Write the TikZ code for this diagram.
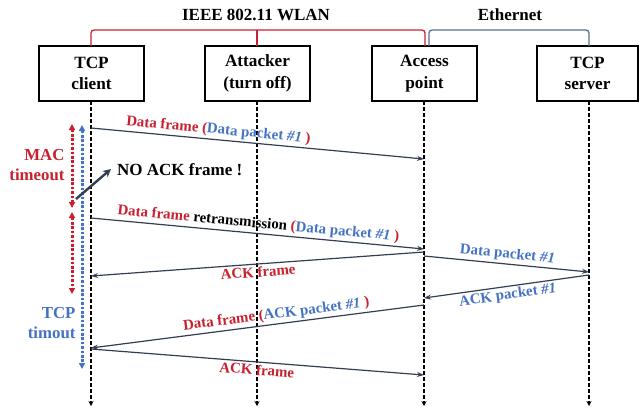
\documentclass[tikz,border=0pt]{standalone}
\usepackage{fontspec}
\setmainfont{Liberation Serif}
\usetikzlibrary{arrows.meta}
\definecolor{wlanred}{HTML}{C8202E}
\definecolor{tcpblue}{HTML}{4472C4}
\definecolor{msgline}{HTML}{333F50}
\definecolor{ethline}{HTML}{5A6E8C}
\newcommand{\rd}[1]{\textcolor{wlanred}{#1}}
\newcommand{\bl}[1]{\textcolor{tcpblue}{#1}}
\begin{document}
\begin{tikzpicture}[x=1pt,y=-1pt,
  font=\bfseries,
  entity/.style={draw=black,line width=1.2pt,minimum width=105pt,minimum height=55pt,
    inner sep=0pt,align=center,font=\fontsize{17.2}{21.5}\selectfont\bfseries},
  lifeline/.style={draw=black,line width=1.1pt,dash pattern=on 3.5pt off 2.5pt,
    -{Stealth[length=5pt,width=5pt]}},
  msg/.style={draw=msgline,line width=1.2pt,-{Stealth[length=7pt,width=5pt]}},
  lbl/.style={font=\fontsize{14.9}{18}\selectfont\bfseries,inner sep=2pt},
  timer/.style={line width=3pt,dash pattern=on 2.6pt off 1.8pt,
    {Triangle[length=6pt,width=6pt]}-{Triangle[length=6pt,width=6pt]}},
  bracket/.style={line width=1.3pt,rounded corners=3pt}
]
\useasboundingbox (0,0) rectangle (640,410);

% entities
\node[entity] (cli) at (91.5,73.5) {TCP\\client};
\node[entity] (att) at (257.5,73.5) {Attacker\\(turn off)};
\node[entity] (ap)  at (424.5,73.5) {Access\\point};
\node[entity,minimum width=101pt] (srv) at (587.5,73.5) {TCP\\server};

% network brackets
\node[font=\fontsize{17}{20}\selectfont\bfseries] (wlan) at (256,15) {IEEE 802.11 WLAN};
\node[font=\fontsize{17}{20}\selectfont\bfseries] (eth) at (510,15) {Ethernet};
\draw[bracket,draw=wlanred] (91,46) -- (91,30) -- (425,30) -- (425,46);
\draw[bracket,draw=wlanred] (257,30) -- (257,46);
\draw[bracket,draw=ethline] (429,46) -- (429,30) -- (589,30) -- (589,46);

% lifelines
\coordinate (cliE) at (91,406);
\coordinate (attE) at (257,406);
\coordinate (apE)  at (424,406);
\coordinate (srvE) at (589,406);
\draw[lifeline] (91,101) -- (cliE);
\draw[lifeline] (257,101) -- (attE);
\draw[lifeline] (424,101) -- (apE);
\draw[lifeline] (589,101) -- (srvE);

% message end points on the lifelines
\coordinate (c1) at (91,128);  \coordinate (a1) at (424,159);
\coordinate (c2) at (91,218);  \coordinate (a2) at (424,249);
\coordinate (a3) at (424,256); \coordinate (s3) at (589,272);
\coordinate (s4) at (589,275); \coordinate (a4) at (424,298);
\coordinate (a5) at (424,252); \coordinate (c5) at (91,276);
\coordinate (a6) at (424,305); \coordinate (c6) at (91,348);
\coordinate (c7) at (91,349);  \coordinate (a7) at (424,375);

% messages
\draw[msg] (c1) -- node[lbl,sloped,above,pos=0.38] {\rd{Data frame (}\bl{Data packet \textit{\#1}}\rd{\ )}} (a1);
\draw[msg] (c2) -- node[lbl,sloped,above,pos=0.5] {\rd{Data frame} retransmission \rd{(}\bl{Data packet \textit{\#1}}\rd{\ )}} (a2);
\draw[msg] (a3) -- node[lbl,sloped,above,pos=0.5] {\bl{Data packet \textit{\#1}}} (s3);
\draw[msg] (s4) -- node[lbl,sloped,below,pos=0.5] {\bl{ACK packet \textit{\#1}}} (a4);
\draw[msg] (a5) -- node[lbl,sloped,below,pos=0.5] {\rd{ACK frame}} (c5);
\draw[msg] (a6) -- node[lbl,sloped,above,pos=0.44] {\rd{Data frame (}\bl{ACK packet \textit{\#1}}\rd{\ )}} (c6);
\draw[msg] (c7) -- node[lbl,sloped,below,pos=0.5] {\rd{ACK frame}} (a7);

% timers
\coordinate (m1t) at (72,124); \coordinate (m1b) at (72,208);
\coordinate (m2t) at (72,212); \coordinate (m2b) at (72,294);
\coordinate (tt) at (82,125);  \coordinate (tb) at (82,369);
\draw[timer,draw=wlanred,fill=wlanred] (m1t) -- (m1b);
\draw[timer,draw=wlanred,fill=wlanred] (m2t) -- (m2b);
\draw[timer,draw=tcpblue,fill=tcpblue] (tt) -- (tb);
\node[anchor=east,align=right,text=wlanred,font=\fontsize{16.8}{20.5}\selectfont\bfseries] (mac) at (68,165) {MAC\\timeout};
\node[anchor=east,align=right,text=tcpblue,font=\fontsize{16.8}{20.5}\selectfont\bfseries] (tcpto) at (79,323) {TCP\\timout};

% lost acknowledgement
\node[anchor=west,font=\fontsize{17}{20}\selectfont\bfseries,inner sep=1pt] (noack) at (116,170) {NO ACK frame !};
\coordinate (na) at (76,199);
\draw[msgline,line width=2.4pt,-{Stealth[length=8pt,width=8pt]}] (na) -- (111,169);
\end{tikzpicture}
\end{document}
